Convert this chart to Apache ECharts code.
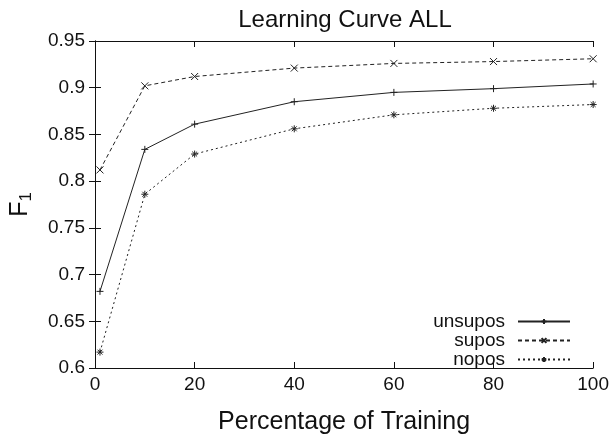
<!DOCTYPE html>
<html>
<head>
<meta charset="utf-8">
<script src="https://cdn.jsdelivr.net/npm/echarts@6/dist/echarts.min.js"></script>
<style>html,body{margin:0;padding:0;background:#fff}#c{width:612px;height:440px}</style>
</head>
<body>
<div id="c"></div>
<script>
const xValues = [1, 10, 20, 40, 60, 80, 100];
const unsupos = [0.682, 0.834, 0.861, 0.885, 0.895, 0.899, 0.904];
const supos   = [0.812, 0.902, 0.912, 0.921, 0.926, 0.928, 0.931];
const nopos   = [0.617, 0.786, 0.829, 0.856, 0.871, 0.878, 0.882];
const seriesNames = ['unsupos', 'supos', 'nopos'];
const titleText = 'Learning Curve ALL';
const xName = 'Percentage of Training';

const FONT = 'Liberation Sans';
const plusSym = 'path://M0,5L10,5M5,0L5,10';
const crossSym = 'path://M0,0L10,10M10,0L0,10';
const starSym = 'path://M0,5L10,5M5,0L5,10M1.5,1.5L8.5,8.5M8.5,1.5L1.5,8.5';

function pairs(ys) { return xValues.map((x, i) => [x, ys[i]]); }

function mk(name, data, sym, type) {
  return {
    name: name, type: 'line', data: pairs(data),
    symbol: sym, symbolSize: 7, showSymbol: true,
    lineStyle: { color: '#222', width: 1, type: type },
    itemStyle: { color: '#222', borderColor: '#222', borderWidth: 1 },
    emphasis: { disabled: true }, animation: false
  };
}

const chart = echarts.init(document.getElementById('c'));
chart.setOption({
  backgroundColor: '#fff',
  animation: false,
  title: {
    text: titleText, left: 340, top: 3, textAlign: 'center',
    textStyle: { fontFamily: FONT, fontSize: 24, fontWeight: 'normal', color: '#111' }
  },
  grid: { left: 93, right: 18, top: 41, bottom: 65, containLabel: false },
  legend: {
    data: seriesNames, orient: 'vertical', right: 36, top: 307, align: 'right',
    itemWidth: 52, itemHeight: 6, itemGap: 0,
    textStyle: { fontFamily: FONT, fontSize: 19, color: '#111', padding: [0, 8, 0, 0] }
  },
  xAxis: [{
    type: 'value', min: 0, max: 100, interval: 20,
    name: xName, nameLocation: 'middle', nameGap: 42,
    nameTextStyle: { fontFamily: FONT, fontSize: 25, color: '#111' },
    axisLine: { show: true, lineStyle: { color: '#111', width: 1 } },
    axisTick: { show: true, inside: true, length: 6, lineStyle: { color: '#111' } },
    axisLabel: { fontFamily: FONT, fontSize: 19, color: '#111', margin: 7 },
    splitLine: { show: false }
  }, {
    type: 'value', min: 0, max: 100, interval: 20, position: 'top',
    axisLine: { show: true, lineStyle: { color: '#111', width: 1 } },
    axisTick: { show: true, inside: true, length: 6, lineStyle: { color: '#111' } },
    axisLabel: { show: false }, splitLine: { show: false }
  }],
  yAxis: [{
    type: 'value', min: 0.6, max: 0.95, interval: 0.05,
    name: '{f|F}{s|1}', nameLocation: 'middle', nameGap: 60, nameRotate: 90,
    nameTextStyle: {
      fontFamily: FONT, color: '#111', padding: [0, 0, 0, 0],
      rich: {
        f: { fontFamily: FONT, fontSize: 25, color: '#111' },
        s: { fontFamily: FONT, fontSize: 17, color: '#111', verticalAlign: 'bottom', padding: [12, 0, 0, 0] }
      }
    },
    axisLine: { show: true, lineStyle: { color: '#111', width: 1 } },
    axisTick: { show: true, inside: true, length: 6, lineStyle: { color: '#111' } },
    axisLabel: { fontFamily: FONT, fontSize: 19, color: '#111', margin: 10,
      formatter: v => String(parseFloat(v.toFixed(2))) },
    splitLine: { show: false }
  }, {
    type: 'value', min: 0.6, max: 0.95, interval: 0.05, position: 'right',
    axisLine: { show: true, lineStyle: { color: '#111', width: 1 } },
    axisTick: { show: true, inside: true, length: 6, lineStyle: { color: '#111' } },
    axisLabel: { show: false }, splitLine: { show: false }
  }],
  series: [
    mk(seriesNames[0], unsupos, plusSym, 'solid'),
    mk(seriesNames[1], supos, crossSym, [4, 3]),
    mk(seriesNames[2], nopos, starSym, [2, 3])
  ]
});
</script>
</body>
</html>
